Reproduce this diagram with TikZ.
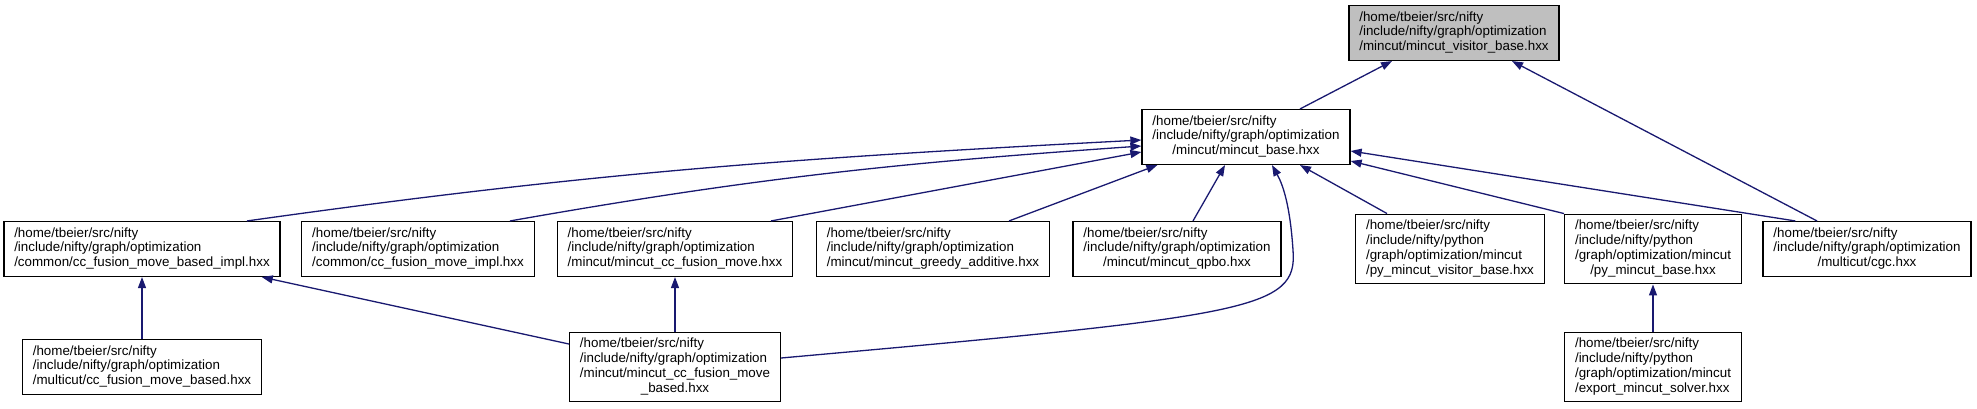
\documentclass[tikz,border=0pt]{standalone}
\usepackage{fontspec}
\setmainfont{Liberation Sans}
\usepackage{tikz}
\usetikzlibrary{positioning,arrows.meta,calc}
\definecolor{depblue}{RGB}{25,25,112}
\definecolor{rootgray}{RGB}{191,191,191}
\newcommand{\fname}[1]{\begin{tabular}{@{}l@{}}#1\end{tabular}}
\newcommand{\ctrline}[1]{\multicolumn{1}{@{}c@{}}{#1}}

\begin{document}
\begin{tikzpicture}[x=0.5pt,y=0.5pt,
  file/.style={draw=black,line width=0.65pt,fill=white,inner xsep=5.2pt,inner ysep=2.6pt,
    font=\fontsize{6.68}{7.4}\selectfont},
  root/.style={file,fill=rootgray},
  dep/.style={depblue,line width=0.65pt,-{Triangle[length=5.5pt,width=4pt]}}]
  \useasboundingbox (0,0) rectangle (1977,-408);
  % the file that is included
  \node[root] (visitor) at (1454,-33) {\fname{/home/tbeier/src/nifty\\/include/nifty/graph/optimization\\/mincut/mincut\_visitor\_base.hxx}};
  \node[file] (base) at (1246,-137) {\fname{/home/tbeier/src/nifty\\/include/nifty/graph/optimization\\\ctrline{/mincut/mincut\_base.hxx}}};
  % second row
  \node[file] (basedimpl) at (142,-249) {\fname{/home/tbeier/src/nifty\\/include/nifty/graph/optimization\\/common/cc\_fusion\_move\_based\_impl.hxx}};
  \node[file] (fusionimpl) at (418,-249) {\fname{/home/tbeier/src/nifty\\/include/nifty/graph/optimization\\/common/cc\_fusion\_move\_impl.hxx}};
  \node[file] (ccfusion) at (675,-249) {\fname{/home/tbeier/src/nifty\\/include/nifty/graph/optimization\\/mincut/mincut\_cc\_fusion\_move.hxx}};
  \node[file] (greedy) at (933,-249) {\fname{/home/tbeier/src/nifty\\/include/nifty/graph/optimization\\/mincut/mincut\_greedy\_additive.hxx}};
  \node[file] (qpbo) at (1177,-249) {\fname{/home/tbeier/src/nifty\\/include/nifty/graph/optimization\\\ctrline{/mincut/mincut\_qpbo.hxx}}};
  \node[file] (pyvisitor) at (1450,-249) {\fname{/home/tbeier/src/nifty\\/include/nifty/python\\/graph/optimization/mincut\\/py\_mincut\_visitor\_base.hxx}};
  \node[file] (pybase) at (1653,-249) {\fname{/home/tbeier/src/nifty\\/include/nifty/python\\/graph/optimization/mincut\\\ctrline{/py\_mincut\_base.hxx}}};
  \node[file] (cgc) at (1867,-249) {\fname{/home/tbeier/src/nifty\\/include/nifty/graph/optimization\\\ctrline{/multicut/cgc.hxx}}};
  % third row
  \node[file] (mcbased) at (142,-367) {\fname{/home/tbeier/src/nifty\\/include/nifty/graph/optimization\\/multicut/cc\_fusion\_move\_based.hxx}};
  \node[file] (ccbased) at (675,-367) {\fname{/home/tbeier/src/nifty\\/include/nifty/graph/optimization\\/mincut/mincut\_cc\_fusion\_move\\\ctrline{\_based.hxx}}};
  \node[file] (export) at (1653,-367) {\fname{/home/tbeier/src/nifty\\/include/nifty/python\\/graph/optimization/mincut\\/export\_mincut\_solver.hxx}};
  % into the visitor base
  \draw[dep] ($(base.north)+(54,0)$) -- ($(visitor.south)+(-62,0)$);
  \draw[dep] ($(cgc.north)+(-50,0)$) -- ($(visitor.south)+(58,0)$);
  % into mincut_base
  \draw[dep] ($(basedimpl.north)+(105,0)$) to[out=8,in=183] ($(base.west)+(0,-3)$);
  \draw[dep] ($(fusionimpl.north)+(92,0)$) to[out=10,in=184] ($(base.west)+(0,-9)$);
  \draw[dep] ($(ccfusion.north)+(96,0)$) -- ($(base.west)+(0,-15)$);
  \draw[dep] ($(greedy.north)+(76,0)$) -- ($(base.south west)+(16,0)$);
  \draw[dep] ($(qpbo.north)+(16,0)$) -- ($(base.south)+(-21,0)$);
  \draw[dep] ($(ccbased.east)+(0,9)$) .. controls (1250,-316) and (1298,-310) .. (1293,-250)
    .. controls (1290,-205) and (1283,-185) .. ($(base.south)+(26,0)$);
  \draw[dep] ($(pyvisitor.north west)+(32,0)$) -- ($(base.south)+(54,0)$);
  \draw[dep] (pybase.north west) -- ($(base.east)+(0,-24)$);
  \draw[dep] ($(cgc.north west)+(33,0)$) -- ($(base.east)+(0,-14)$);
  % lower row
  \draw[dep] ($(ccbased.west)+(0,23)$) -- ($(basedimpl.south east)+(-19,0)$);
  \draw[dep] (mcbased.north) -- (basedimpl.south);
  \draw[dep] (ccbased.north) -- (ccfusion.south);
  \draw[dep] (export.north) -- (pybase.south);
\end{tikzpicture}
\end{document}
